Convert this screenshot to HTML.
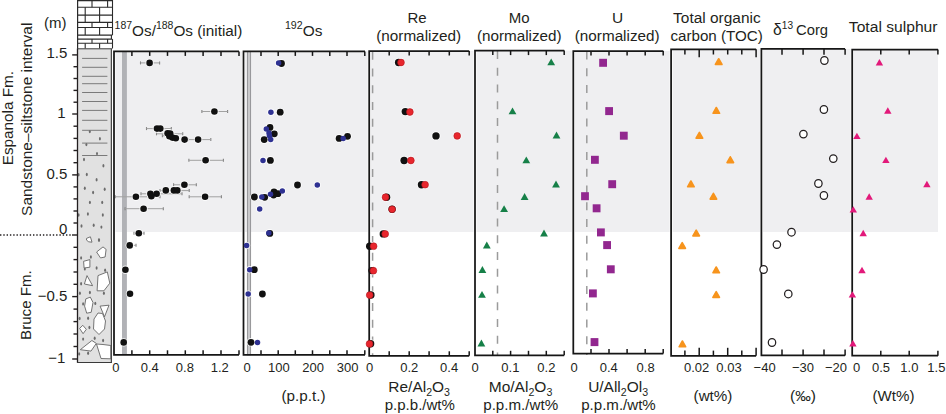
<!DOCTYPE html>
<html><head><meta charset="utf-8"><title>Figure</title>
<style>
html,body{margin:0;padding:0;background:#fff;width:946px;height:414px;overflow:hidden}
svg{display:block}
text{font-family:"Liberation Sans", sans-serif;fill:#231f20}
</style></head><body>
<svg width="946" height="414" viewBox="0 0 946 414">
<rect x="77.5" y="0.5" width="35" height="48" fill="#fff"/>
<line x1="77.5" y1="0.6" x2="112.5" y2="0.6" stroke="#2a2a2a" stroke-width="1.1"/>
<line x1="77.5" y1="7.2" x2="112.5" y2="7.2" stroke="#2a2a2a" stroke-width="1.1"/>
<line x1="77.5" y1="15.1" x2="112.5" y2="15.1" stroke="#2a2a2a" stroke-width="1.1"/>
<line x1="77.5" y1="22.4" x2="112.5" y2="22.4" stroke="#2a2a2a" stroke-width="1.1"/>
<line x1="77.5" y1="27.5" x2="112.5" y2="27.5" stroke="#2a2a2a" stroke-width="1.1"/>
<line x1="77.5" y1="35.1" x2="112.5" y2="35.1" stroke="#2a2a2a" stroke-width="1.1"/>
<line x1="77.5" y1="39.1" x2="112.5" y2="39.1" stroke="#2a2a2a" stroke-width="1.1"/>
<line x1="77.5" y1="43.2" x2="112.5" y2="43.2" stroke="#2a2a2a" stroke-width="1.1"/>
<line x1="92" y1="0.6" x2="92" y2="7.2" stroke="#2a2a2a" stroke-width="1.1"/>
<line x1="107.6" y1="0.6" x2="107.6" y2="7.2" stroke="#2a2a2a" stroke-width="1.1"/>
<line x1="85.2" y1="7.2" x2="85.2" y2="15.1" stroke="#2a2a2a" stroke-width="1.1"/>
<line x1="99.6" y1="7.2" x2="99.6" y2="15.1" stroke="#2a2a2a" stroke-width="1.1"/>
<line x1="85.2" y1="15.1" x2="85.2" y2="22.4" stroke="#2a2a2a" stroke-width="1.1"/>
<line x1="99.6" y1="15.1" x2="99.6" y2="22.4" stroke="#2a2a2a" stroke-width="1.1"/>
<line x1="92" y1="22.4" x2="92" y2="27.5" stroke="#2a2a2a" stroke-width="1.1"/>
<line x1="107.6" y1="22.4" x2="107.6" y2="27.5" stroke="#2a2a2a" stroke-width="1.1"/>
<line x1="85.2" y1="27.5" x2="85.2" y2="35.1" stroke="#2a2a2a" stroke-width="1.1"/>
<line x1="99.6" y1="27.5" x2="99.6" y2="35.1" stroke="#2a2a2a" stroke-width="1.1"/>
<line x1="92" y1="39.1" x2="92" y2="43.2" stroke="#2a2a2a" stroke-width="1.1"/>
<line x1="107.6" y1="39.1" x2="107.6" y2="43.2" stroke="#2a2a2a" stroke-width="1.1"/>
<line x1="85.2" y1="43.2" x2="85.2" y2="48.5" stroke="#2a2a2a" stroke-width="1.1"/>
<line x1="99.6" y1="43.2" x2="99.6" y2="48.5" stroke="#2a2a2a" stroke-width="1.1"/>
<rect x="111.9" y="35.6" width="1.4" height="3.0" fill="#fff"/>
<line x1="112.5" y1="0" x2="112.5" y2="35.1" stroke="#2a2a2a" stroke-width="1.1"/>
<line x1="111.4" y1="35.1" x2="111.4" y2="39.1" stroke="#2a2a2a" stroke-width="1.1"/>
<line x1="112.5" y1="39.1" x2="112.5" y2="48.5" stroke="#2a2a2a" stroke-width="1.1"/>
<line x1="77.6" y1="0" x2="77.6" y2="48.8" stroke="#2a2a2a" stroke-width="1.2"/>
<rect x="77.5" y="48.8" width="34" height="313.7" fill="#e1e1e1" stroke="#3a3a3a" stroke-width="1"/>
<line x1="82.1" y1="58.4" x2="107.4" y2="58.4" stroke="#7a7a7a" stroke-width="1"/>
<line x1="82.1" y1="67.3" x2="107.4" y2="67.3" stroke="#7a7a7a" stroke-width="1"/>
<line x1="82.1" y1="76.3" x2="107.4" y2="76.3" stroke="#7a7a7a" stroke-width="1"/>
<line x1="82.1" y1="83.7" x2="107.4" y2="83.7" stroke="#7a7a7a" stroke-width="1"/>
<line x1="82.1" y1="92.5" x2="107.4" y2="92.5" stroke="#7a7a7a" stroke-width="1"/>
<line x1="82.1" y1="101.5" x2="107.4" y2="101.5" stroke="#7a7a7a" stroke-width="1"/>
<line x1="82.1" y1="110.4" x2="107.4" y2="110.4" stroke="#7a7a7a" stroke-width="1"/>
<line x1="82.1" y1="120.3" x2="107.4" y2="120.3" stroke="#7a7a7a" stroke-width="1"/>
<line x1="82.1" y1="130.3" x2="107.4" y2="130.3" stroke="#7a7a7a" stroke-width="1"/>
<line x1="82.1" y1="143.1" x2="107.4" y2="143.1" stroke="#7a7a7a" stroke-width="1"/>
<line x1="82.1" y1="155.5" x2="107.4" y2="155.5" stroke="#7a7a7a" stroke-width="1"/>
<ellipse cx="78.6" cy="174.7" rx="1.0" ry="1.7" fill="#6c6c6c"/>
<ellipse cx="89.8" cy="131.6" rx="1.0" ry="1.7" fill="#6c6c6c"/>
<ellipse cx="99.9" cy="138.8" rx="1.0" ry="1.7" fill="#6c6c6c"/>
<ellipse cx="86.4" cy="144.6" rx="1.0" ry="1.7" fill="#6c6c6c"/>
<ellipse cx="97" cy="153.6" rx="1.0" ry="1.7" fill="#6c6c6c"/>
<ellipse cx="84" cy="159.5" rx="1.0" ry="1.7" fill="#6c6c6c"/>
<ellipse cx="103.4" cy="165.8" rx="1.0" ry="1.7" fill="#6c6c6c"/>
<ellipse cx="86.8" cy="174.5" rx="1.0" ry="1.7" fill="#6c6c6c"/>
<ellipse cx="96.6" cy="179.7" rx="1.0" ry="1.7" fill="#6c6c6c"/>
<ellipse cx="84.8" cy="188.3" rx="1.0" ry="1.7" fill="#6c6c6c"/>
<ellipse cx="93.1" cy="192.5" rx="1.0" ry="1.7" fill="#6c6c6c"/>
<ellipse cx="104.7" cy="189.2" rx="1.0" ry="1.7" fill="#6c6c6c"/>
<ellipse cx="89.9" cy="202.4" rx="1.0" ry="1.7" fill="#6c6c6c"/>
<ellipse cx="102.2" cy="202.4" rx="1.0" ry="1.7" fill="#6c6c6c"/>
<ellipse cx="78.6" cy="215" rx="1.0" ry="1.7" fill="#6c6c6c"/>
<ellipse cx="87.9" cy="214" rx="1.0" ry="1.7" fill="#6c6c6c"/>
<ellipse cx="102.8" cy="215" rx="1.0" ry="1.7" fill="#6c6c6c"/>
<ellipse cx="81.5" cy="226" rx="1.0" ry="1.7" fill="#6c6c6c"/>
<ellipse cx="93.7" cy="225.2" rx="1.0" ry="1.7" fill="#6c6c6c"/>
<ellipse cx="101.4" cy="227.1" rx="1.0" ry="1.7" fill="#6c6c6c"/>
<ellipse cx="98.9" cy="240" rx="1.0" ry="1.7" fill="#6c6c6c"/>
<ellipse cx="99.1" cy="240.1" rx="1.0" ry="1.7" fill="#6c6c6c"/>
<ellipse cx="81.1" cy="257.9" rx="1.0" ry="1.7" fill="#6c6c6c"/>
<ellipse cx="90.9" cy="257" rx="1.0" ry="1.7" fill="#6c6c6c"/>
<ellipse cx="84.8" cy="268.9" rx="1.0" ry="1.7" fill="#6c6c6c"/>
<ellipse cx="96.6" cy="268" rx="1.0" ry="1.7" fill="#6c6c6c"/>
<ellipse cx="105.1" cy="270.2" rx="1.0" ry="1.7" fill="#6c6c6c"/>
<ellipse cx="81.1" cy="283.7" rx="1.0" ry="1.7" fill="#6c6c6c"/>
<ellipse cx="79.9" cy="293.3" rx="1.0" ry="1.7" fill="#6c6c6c"/>
<ellipse cx="89.9" cy="292.5" rx="1.0" ry="1.7" fill="#6c6c6c"/>
<ellipse cx="103.9" cy="293.3" rx="1.0" ry="1.7" fill="#6c6c6c"/>
<ellipse cx="83.1" cy="303.9" rx="1.0" ry="1.7" fill="#6c6c6c"/>
<ellipse cx="95.3" cy="303.4" rx="1.0" ry="1.7" fill="#6c6c6c"/>
<ellipse cx="79.6" cy="318.5" rx="1.0" ry="1.7" fill="#6c6c6c"/>
<ellipse cx="88.1" cy="318.2" rx="1.0" ry="1.7" fill="#6c6c6c"/>
<ellipse cx="89.4" cy="327.5" rx="1.0" ry="1.7" fill="#6c6c6c"/>
<ellipse cx="83.1" cy="339.1" rx="1.0" ry="1.7" fill="#6c6c6c"/>
<ellipse cx="94.7" cy="338.2" rx="1.0" ry="1.7" fill="#6c6c6c"/>
<ellipse cx="103.1" cy="340.5" rx="1.0" ry="1.7" fill="#6c6c6c"/>
<ellipse cx="79.2" cy="353.9" rx="1.0" ry="1.7" fill="#6c6c6c"/>
<ellipse cx="88.1" cy="353.3" rx="1.0" ry="1.7" fill="#6c6c6c"/>
<polygon points="86.5,238.4 90.4,236.8 92,242.2 88.7,241.8 86.5,240.1" fill="#fff" stroke="#666" stroke-width="0.9"/>
<polygon points="96.6,252 103,246.9 106.1,249.4 105.1,257 100.5,257.9" fill="#fff" stroke="#666" stroke-width="0.9"/>
<polygon points="83.6,261.3 89.9,259.6 89.9,267.2 84.1,268" fill="#fff" stroke="#666" stroke-width="0.9"/>
<polygon points="87,275.6 92.6,285.7 84.4,284" fill="#fff" stroke="#666" stroke-width="0.9"/>
<polygon points="98,275.6 107.3,271.9 109.8,283.2 103.9,290.8 97.1,290.8" fill="#fff" stroke="#666" stroke-width="0.9"/>
<polygon points="85.8,298.9 90.3,297.1 93,302.5 91.2,312.3 86.7,313.2 84.6,306.1" fill="#fff" stroke="#666" stroke-width="0.9"/>
<polygon points="100.1,306.1 109,305.2 104.5,316.8" fill="#fff" stroke="#666" stroke-width="0.9"/>
<polygon points="98,313 102.5,313.5 105.5,321 104.5,329 99,334.5 93.5,329 94,319" fill="#fff" stroke="#666" stroke-width="0.9"/>
<polygon points="79.6,328.4 82.8,325.3 86.3,329.3 83.1,333.7" fill="#fff" stroke="#666" stroke-width="0.9"/>
<polygon points="80.3,349.7 91.9,340.5 96.3,343.4 91,351.1" fill="#fff" stroke="#666" stroke-width="0.9"/>
<polygon points="96.5,344 103,344.5 110.8,345.5 110.8,358.8 101,358.5" fill="#fff" stroke="#666" stroke-width="0.9"/>
<line x1="77.5" y1="48.5" x2="77.5" y2="362.8" stroke="#231f20" stroke-width="1.3"/>
<line x1="77" y1="362.5" x2="111.5" y2="362.5" stroke="#3a3a3a" stroke-width="1.2"/>
<line x1="111.3" y1="48.8" x2="111.3" y2="362.5" stroke="#4a4a4a" stroke-width="1.1"/>
<line x1="72.2" y1="359.0" x2="77.5" y2="359.0" stroke="#231f20" stroke-width="1.4"/>
<line x1="73.5" y1="346.5" x2="77.5" y2="346.5" stroke="#231f20" stroke-width="1.4"/>
<line x1="73.5" y1="334.0" x2="77.5" y2="334.0" stroke="#231f20" stroke-width="1.4"/>
<line x1="73.5" y1="321.6" x2="77.5" y2="321.6" stroke="#231f20" stroke-width="1.4"/>
<line x1="73.5" y1="309.1" x2="77.5" y2="309.1" stroke="#231f20" stroke-width="1.4"/>
<line x1="72.2" y1="296.6" x2="77.5" y2="296.6" stroke="#231f20" stroke-width="1.4"/>
<line x1="73.5" y1="284.3" x2="77.5" y2="284.3" stroke="#231f20" stroke-width="1.4"/>
<line x1="73.5" y1="272.0" x2="77.5" y2="272.0" stroke="#231f20" stroke-width="1.4"/>
<line x1="73.5" y1="259.6" x2="77.5" y2="259.6" stroke="#231f20" stroke-width="1.4"/>
<line x1="73.5" y1="247.3" x2="77.5" y2="247.3" stroke="#231f20" stroke-width="1.4"/>
<line x1="72.2" y1="235.0" x2="77.5" y2="235.0" stroke="#231f20" stroke-width="1.4"/>
<line x1="73.5" y1="223.0" x2="77.5" y2="223.0" stroke="#231f20" stroke-width="1.4"/>
<line x1="73.5" y1="211.0" x2="77.5" y2="211.0" stroke="#231f20" stroke-width="1.4"/>
<line x1="73.5" y1="198.9" x2="77.5" y2="198.9" stroke="#231f20" stroke-width="1.4"/>
<line x1="73.5" y1="186.9" x2="77.5" y2="186.9" stroke="#231f20" stroke-width="1.4"/>
<line x1="72.2" y1="174.9" x2="77.5" y2="174.9" stroke="#231f20" stroke-width="1.4"/>
<line x1="73.5" y1="162.7" x2="77.5" y2="162.7" stroke="#231f20" stroke-width="1.4"/>
<line x1="73.5" y1="150.5" x2="77.5" y2="150.5" stroke="#231f20" stroke-width="1.4"/>
<line x1="73.5" y1="138.4" x2="77.5" y2="138.4" stroke="#231f20" stroke-width="1.4"/>
<line x1="73.5" y1="126.2" x2="77.5" y2="126.2" stroke="#231f20" stroke-width="1.4"/>
<line x1="72.2" y1="114.0" x2="77.5" y2="114.0" stroke="#231f20" stroke-width="1.4"/>
<line x1="73.5" y1="102.2" x2="77.5" y2="102.2" stroke="#231f20" stroke-width="1.4"/>
<line x1="73.5" y1="90.4" x2="77.5" y2="90.4" stroke="#231f20" stroke-width="1.4"/>
<line x1="73.5" y1="78.5" x2="77.5" y2="78.5" stroke="#231f20" stroke-width="1.4"/>
<line x1="73.5" y1="66.7" x2="77.5" y2="66.7" stroke="#231f20" stroke-width="1.4"/>
<line x1="72.2" y1="54.9" x2="77.5" y2="54.9" stroke="#231f20" stroke-width="1.4"/>
<line x1="0" y1="235" x2="73" y2="235" stroke="#231f20" stroke-width="1.5" stroke-dasharray="1.4,1.9"/>
<text x="67.4" y="57.6" text-anchor="end" font-size="15">1.5</text>
<text x="65.6" y="117.9" text-anchor="end" font-size="15">1</text>
<text x="67.4" y="179.4" text-anchor="end" font-size="15">0.5</text>
<text x="67.4" y="234.0" text-anchor="end" font-size="15">0</text>
<text x="67.4" y="300.8" text-anchor="end" font-size="15">−0.5</text>
<text x="65.3" y="362.7" text-anchor="end" font-size="15">−1</text>
<rect x="115.5" y="51.4" width="126.5" height="180.6" fill="#efeff1"/>
<rect x="245.0" y="51.4" width="122.69999999999999" height="180.6" fill="#efeff1"/>
<rect x="370.7" y="51.0" width="102.80000000000001" height="181.0" fill="#efeff1"/>
<rect x="476.5" y="50.6" width="95.29999999999995" height="181.4" fill="#efeff1"/>
<rect x="574.8" y="51.0" width="94.80000000000007" height="181.0" fill="#efeff1"/>
<rect x="672.6" y="49.3" width="87.29999999999995" height="182.7" fill="#efeff1"/>
<rect x="762.9" y="48.9" width="87.80000000000007" height="183.1" fill="#efeff1"/>
<rect x="853.7" y="49.6" width="84.29999999999995" height="182.4" fill="#efeff1"/>
<rect x="122" y="51.4" width="4.9" height="303.40000000000003" fill="#b1b2b6"/>
<rect x="247.4" y="51.4" width="3.2" height="303.40000000000003" fill="#c9c9cb" stroke="#8e8e90" stroke-width="0.9"/>
<line x1="372.6" y1="51.8" x2="372.6" y2="355" stroke="#9b9b9b" stroke-width="1.5" stroke-dasharray="7.9,8.85"/>
<line x1="497.5" y1="51.0" x2="497.5" y2="355" stroke="#9b9b9b" stroke-width="1.5" stroke-dasharray="7.9,8.85"/>
<line x1="586.8" y1="51.6" x2="586.8" y2="355" stroke="#9b9b9b" stroke-width="1.5" stroke-dasharray="7.9,8.85"/>
<line x1="136" y1="243.8" x2="136" y2="246.8" stroke="#808080" stroke-width="1.1"/>
<line x1="127" y1="243.8" x2="127" y2="246.8" stroke="#808080" stroke-width="1.1"/>
<line x1="127" y1="245.3" x2="136" y2="245.3" stroke="#a2a2a2" stroke-width="1"/>
<line x1="144" y1="231.7" x2="144" y2="234.7" stroke="#808080" stroke-width="1.1"/>
<line x1="134" y1="231.7" x2="134" y2="234.7" stroke="#808080" stroke-width="1.1"/>
<line x1="134" y1="233.2" x2="144" y2="233.2" stroke="#a2a2a2" stroke-width="1"/>
<line x1="163.3" y1="207.2" x2="163.3" y2="210.2" stroke="#808080" stroke-width="1.1"/>
<line x1="125.1" y1="207.2" x2="125.1" y2="210.2" stroke="#808080" stroke-width="1.1"/>
<line x1="125.1" y1="208.7" x2="163.3" y2="208.7" stroke="#a2a2a2" stroke-width="1"/>
<line x1="221.4" y1="195.3" x2="221.4" y2="198.3" stroke="#808080" stroke-width="1.1"/>
<line x1="189.2" y1="195.3" x2="189.2" y2="198.3" stroke="#808080" stroke-width="1.1"/>
<line x1="189.2" y1="196.8" x2="221.4" y2="196.8" stroke="#a2a2a2" stroke-width="1"/>
<line x1="160" y1="195.3" x2="160" y2="198.3" stroke="#808080" stroke-width="1.1"/>
<line x1="115.2" y1="195.3" x2="115.2" y2="198.3" stroke="#808080" stroke-width="1.1"/>
<line x1="115.2" y1="196.8" x2="160" y2="196.8" stroke="#a2a2a2" stroke-width="1"/>
<line x1="182" y1="192.3" x2="182" y2="195.3" stroke="#808080" stroke-width="1.1"/>
<line x1="141" y1="192.3" x2="141" y2="195.3" stroke="#808080" stroke-width="1.1"/>
<line x1="141" y1="193.8" x2="182" y2="193.8" stroke="#a2a2a2" stroke-width="1"/>
<line x1="189.2" y1="189.1" x2="189.2" y2="192.1" stroke="#808080" stroke-width="1.1"/>
<line x1="160" y1="189.1" x2="160" y2="192.1" stroke="#808080" stroke-width="1.1"/>
<line x1="160" y1="190.6" x2="189.2" y2="190.6" stroke="#a2a2a2" stroke-width="1"/>
<line x1="196.3" y1="183.3" x2="196.3" y2="186.3" stroke="#808080" stroke-width="1.1"/>
<line x1="173.6" y1="183.3" x2="173.6" y2="186.3" stroke="#808080" stroke-width="1.1"/>
<line x1="173.6" y1="184.8" x2="196.3" y2="184.8" stroke="#a2a2a2" stroke-width="1"/>
<line x1="223.4" y1="158.8" x2="223.4" y2="161.8" stroke="#808080" stroke-width="1.1"/>
<line x1="188.9" y1="158.8" x2="188.9" y2="161.8" stroke="#808080" stroke-width="1.1"/>
<line x1="188.9" y1="160.3" x2="223.4" y2="160.3" stroke="#a2a2a2" stroke-width="1"/>
<line x1="210.8" y1="138.1" x2="210.8" y2="141.1" stroke="#808080" stroke-width="1.1"/>
<line x1="187.9" y1="138.1" x2="187.9" y2="141.1" stroke="#808080" stroke-width="1.1"/>
<line x1="187.9" y1="139.6" x2="210.8" y2="139.6" stroke="#a2a2a2" stroke-width="1"/>
<line x1="176" y1="134.3" x2="176" y2="137.3" stroke="#808080" stroke-width="1.1"/>
<line x1="162.4" y1="134.3" x2="162.4" y2="137.3" stroke="#808080" stroke-width="1.1"/>
<line x1="162.4" y1="135.8" x2="176" y2="135.8" stroke="#a2a2a2" stroke-width="1"/>
<line x1="182.7" y1="132.3" x2="182.7" y2="135.3" stroke="#808080" stroke-width="1.1"/>
<line x1="156.5" y1="132.3" x2="156.5" y2="135.3" stroke="#808080" stroke-width="1.1"/>
<line x1="156.5" y1="133.8" x2="182.7" y2="133.8" stroke="#a2a2a2" stroke-width="1"/>
<line x1="171.3" y1="127.1" x2="171.3" y2="130.1" stroke="#808080" stroke-width="1.1"/>
<line x1="146.5" y1="127.1" x2="146.5" y2="130.1" stroke="#808080" stroke-width="1.1"/>
<line x1="146.5" y1="128.6" x2="171.3" y2="128.6" stroke="#a2a2a2" stroke-width="1"/>
<line x1="227.6" y1="110.0" x2="227.6" y2="113.0" stroke="#808080" stroke-width="1.1"/>
<line x1="201.9" y1="110.0" x2="201.9" y2="113.0" stroke="#808080" stroke-width="1.1"/>
<line x1="201.9" y1="111.5" x2="227.6" y2="111.5" stroke="#a2a2a2" stroke-width="1"/>
<line x1="159.6" y1="61.4" x2="159.6" y2="64.4" stroke="#808080" stroke-width="1.1"/>
<line x1="140.5" y1="61.4" x2="140.5" y2="64.4" stroke="#808080" stroke-width="1.1"/>
<line x1="140.5" y1="62.9" x2="159.6" y2="62.9" stroke="#a2a2a2" stroke-width="1"/>
<circle cx="149.6" cy="62.9" r="4.2" fill="#fff" opacity="0.85"/>
<circle cx="214.4" cy="111.5" r="4.2" fill="#fff" opacity="0.85"/>
<circle cx="157.0" cy="128.6" r="4.2" fill="#fff" opacity="0.85"/>
<circle cx="160.3" cy="128.6" r="4.2" fill="#fff" opacity="0.85"/>
<circle cx="167.6" cy="133.3" r="4.2" fill="#fff" opacity="0.85"/>
<circle cx="170.2" cy="133.5" r="4.2" fill="#fff" opacity="0.85"/>
<circle cx="169.4" cy="136.2" r="4.2" fill="#fff" opacity="0.85"/>
<circle cx="172.4" cy="137.6" r="4.2" fill="#fff" opacity="0.85"/>
<circle cx="175.8" cy="138.3" r="4.2" fill="#fff" opacity="0.85"/>
<circle cx="184.6" cy="139.6" r="4.2" fill="#fff" opacity="0.85"/>
<circle cx="198.1" cy="139.6" r="4.2" fill="#fff" opacity="0.85"/>
<circle cx="205.6" cy="160.3" r="4.2" fill="#fff" opacity="0.85"/>
<circle cx="184.4" cy="184.8" r="4.2" fill="#fff" opacity="0.85"/>
<circle cx="165.8" cy="190.4" r="4.2" fill="#fff" opacity="0.85"/>
<circle cx="173.9" cy="190.4" r="4.2" fill="#fff" opacity="0.85"/>
<circle cx="177.3" cy="190.4" r="4.2" fill="#fff" opacity="0.85"/>
<circle cx="156.6" cy="193.8" r="4.2" fill="#fff" opacity="0.85"/>
<circle cx="150.4" cy="193.8" r="4.2" fill="#fff" opacity="0.85"/>
<circle cx="151.4" cy="196.2" r="4.2" fill="#fff" opacity="0.85"/>
<circle cx="135.9" cy="196.8" r="4.2" fill="#fff" opacity="0.85"/>
<circle cx="205.1" cy="196.8" r="4.2" fill="#fff" opacity="0.85"/>
<circle cx="143.6" cy="208.7" r="4.2" fill="#fff" opacity="0.85"/>
<circle cx="138.8" cy="233.2" r="4.2" fill="#fff" opacity="0.85"/>
<circle cx="129.7" cy="245.4" r="4.2" fill="#fff" opacity="0.85"/>
<circle cx="125.4" cy="269.8" r="4.2" fill="#fff" opacity="0.85"/>
<circle cx="130.0" cy="293.8" r="4.2" fill="#fff" opacity="0.85"/>
<circle cx="123.7" cy="342.4" r="4.2" fill="#fff" opacity="0.85"/>
<circle cx="281.5" cy="63.5" r="4.3" fill="#fff" opacity="0.85"/>
<circle cx="280.2" cy="112.2" r="4.3" fill="#fff" opacity="0.85"/>
<circle cx="270.0" cy="127.4" r="4.3" fill="#fff" opacity="0.85"/>
<circle cx="274.3" cy="133.8" r="4.3" fill="#fff" opacity="0.85"/>
<circle cx="264.2" cy="139.6" r="4.3" fill="#fff" opacity="0.85"/>
<circle cx="339.1" cy="138.4" r="4.3" fill="#fff" opacity="0.85"/>
<circle cx="347.5" cy="136.3" r="4.3" fill="#fff" opacity="0.85"/>
<circle cx="270.4" cy="160.4" r="4.3" fill="#fff" opacity="0.85"/>
<circle cx="297.5" cy="185.0" r="4.3" fill="#fff" opacity="0.85"/>
<circle cx="274" cy="191.9" r="4.3" fill="#fff" opacity="0.85"/>
<circle cx="277.9" cy="193.7" r="4.3" fill="#fff" opacity="0.85"/>
<circle cx="273.6" cy="195.0" r="4.3" fill="#fff" opacity="0.85"/>
<circle cx="264.7" cy="197.3" r="4.3" fill="#fff" opacity="0.85"/>
<circle cx="254.4" cy="197.0" r="4.3" fill="#fff" opacity="0.85"/>
<circle cx="269.8" cy="233.4" r="4.3" fill="#fff" opacity="0.85"/>
<circle cx="254.3" cy="269.7" r="4.3" fill="#fff" opacity="0.85"/>
<circle cx="262.4" cy="294.0" r="4.3" fill="#fff" opacity="0.85"/>
<circle cx="251.0" cy="342.3" r="4.3" fill="#fff" opacity="0.85"/>
<circle cx="278.6" cy="63.1" r="3.6" fill="#fff" opacity="0.85"/>
<circle cx="270.9" cy="112.2" r="3.6" fill="#fff" opacity="0.85"/>
<circle cx="266.3" cy="129.0" r="3.6" fill="#fff" opacity="0.85"/>
<circle cx="269.0" cy="133.0" r="3.6" fill="#fff" opacity="0.85"/>
<circle cx="269.4" cy="135.8" r="3.6" fill="#fff" opacity="0.85"/>
<circle cx="270.7" cy="139.4" r="3.6" fill="#fff" opacity="0.85"/>
<circle cx="343.2" cy="138.4" r="3.6" fill="#fff" opacity="0.85"/>
<circle cx="263.0" cy="160.4" r="3.6" fill="#fff" opacity="0.85"/>
<circle cx="317.3" cy="185.1" r="3.6" fill="#fff" opacity="0.85"/>
<circle cx="282.3" cy="190.9" r="3.6" fill="#fff" opacity="0.85"/>
<circle cx="270.5" cy="194.3" r="3.6" fill="#fff" opacity="0.85"/>
<circle cx="261.8" cy="197.1" r="3.6" fill="#fff" opacity="0.85"/>
<circle cx="259.7" cy="208.9" r="3.6" fill="#fff" opacity="0.85"/>
<circle cx="268.8" cy="233.0" r="3.6" fill="#fff" opacity="0.85"/>
<circle cx="246.6" cy="245.5" r="3.6" fill="#fff" opacity="0.85"/>
<circle cx="249.7" cy="269.7" r="3.6" fill="#fff" opacity="0.85"/>
<circle cx="248.2" cy="294.0" r="3.6" fill="#fff" opacity="0.85"/>
<circle cx="257.5" cy="342.5" r="3.6" fill="#fff" opacity="0.85"/>
<circle cx="398.6" cy="62.5" r="4.6" fill="#fff" opacity="0.85"/>
<circle cx="405.3" cy="111.6" r="4.6" fill="#fff" opacity="0.85"/>
<circle cx="436.0" cy="135.9" r="4.6" fill="#fff" opacity="0.85"/>
<circle cx="404.1" cy="160.5" r="4.6" fill="#fff" opacity="0.85"/>
<circle cx="421.5" cy="184.7" r="4.6" fill="#fff" opacity="0.85"/>
<circle cx="386.6" cy="197.2" r="4.6" fill="#fff" opacity="0.85"/>
<circle cx="392.1" cy="209.3" r="4.6" fill="#fff" opacity="0.85"/>
<circle cx="383.3" cy="233.9" r="4.6" fill="#fff" opacity="0.85"/>
<circle cx="369.7" cy="246.2" r="4.6" fill="#fff" opacity="0.85"/>
<circle cx="372.0" cy="270.6" r="4.6" fill="#fff" opacity="0.85"/>
<circle cx="370.9" cy="295.0" r="4.6" fill="#fff" opacity="0.85"/>
<circle cx="370.6" cy="343.8" r="4.6" fill="#fff" opacity="0.85"/>
<circle cx="401.0" cy="62.5" r="4.4" fill="#fff" opacity="0.85"/>
<circle cx="409.9" cy="112.0" r="4.4" fill="#fff" opacity="0.85"/>
<circle cx="457.2" cy="135.9" r="4.4" fill="#fff" opacity="0.85"/>
<circle cx="410.9" cy="160.5" r="4.4" fill="#fff" opacity="0.85"/>
<circle cx="425.1" cy="184.7" r="4.4" fill="#fff" opacity="0.85"/>
<circle cx="385.5" cy="197.2" r="4.4" fill="#fff" opacity="0.85"/>
<circle cx="392.1" cy="209.3" r="4.4" fill="#fff" opacity="0.85"/>
<circle cx="385.2" cy="233.9" r="4.4" fill="#fff" opacity="0.85"/>
<circle cx="373.6" cy="246.2" r="4.4" fill="#fff" opacity="0.85"/>
<circle cx="373.4" cy="270.7" r="4.4" fill="#fff" opacity="0.85"/>
<circle cx="369.7" cy="295.1" r="4.4" fill="#fff" opacity="0.85"/>
<circle cx="369.5" cy="343.9" r="4.4" fill="#fff" opacity="0.85"/>
<path d="M239.0,51.4 H114.0 V354.8 H239.0" fill="none" stroke="#161616" stroke-width="1.75"/>
<line x1="131.9" y1="51.4" x2="131.9" y2="55.9" stroke="#161616" stroke-width="1.5"/>
<line x1="131.9" y1="354.8" x2="131.9" y2="350.3" stroke="#161616" stroke-width="1.5"/>
<line x1="149.7" y1="51.4" x2="149.7" y2="55.9" stroke="#161616" stroke-width="1.5"/>
<line x1="149.7" y1="354.8" x2="149.7" y2="350.3" stroke="#161616" stroke-width="1.5"/>
<line x1="167.5" y1="51.4" x2="167.5" y2="55.9" stroke="#161616" stroke-width="1.5"/>
<line x1="167.5" y1="354.8" x2="167.5" y2="350.3" stroke="#161616" stroke-width="1.5"/>
<line x1="185.3" y1="51.4" x2="185.3" y2="55.9" stroke="#161616" stroke-width="1.5"/>
<line x1="185.3" y1="354.8" x2="185.3" y2="350.3" stroke="#161616" stroke-width="1.5"/>
<line x1="203.1" y1="51.4" x2="203.1" y2="55.9" stroke="#161616" stroke-width="1.5"/>
<line x1="203.1" y1="354.8" x2="203.1" y2="350.3" stroke="#161616" stroke-width="1.5"/>
<line x1="221.0" y1="51.4" x2="221.0" y2="55.9" stroke="#161616" stroke-width="1.5"/>
<line x1="221.0" y1="354.8" x2="221.0" y2="350.3" stroke="#161616" stroke-width="1.5"/>
<line x1="239.0" y1="51.4" x2="239.0" y2="55.9" stroke="#161616" stroke-width="1.5"/>
<line x1="239.0" y1="354.8" x2="239.0" y2="350.3" stroke="#161616" stroke-width="1.5"/>
<path d="M365.0,51.4 H243.5 V354.8 H365.0" fill="none" stroke="#161616" stroke-width="1.75"/>
<line x1="261.0" y1="51.4" x2="261.0" y2="55.9" stroke="#161616" stroke-width="1.5"/>
<line x1="261.0" y1="354.8" x2="261.0" y2="350.3" stroke="#161616" stroke-width="1.5"/>
<line x1="278.2" y1="51.4" x2="278.2" y2="55.9" stroke="#161616" stroke-width="1.5"/>
<line x1="278.2" y1="354.8" x2="278.2" y2="350.3" stroke="#161616" stroke-width="1.5"/>
<line x1="295.3" y1="51.4" x2="295.3" y2="55.9" stroke="#161616" stroke-width="1.5"/>
<line x1="295.3" y1="354.8" x2="295.3" y2="350.3" stroke="#161616" stroke-width="1.5"/>
<line x1="312.5" y1="51.4" x2="312.5" y2="55.9" stroke="#161616" stroke-width="1.5"/>
<line x1="312.5" y1="354.8" x2="312.5" y2="350.3" stroke="#161616" stroke-width="1.5"/>
<line x1="329.8" y1="51.4" x2="329.8" y2="55.9" stroke="#161616" stroke-width="1.5"/>
<line x1="329.8" y1="354.8" x2="329.8" y2="350.3" stroke="#161616" stroke-width="1.5"/>
<line x1="347.0" y1="51.4" x2="347.0" y2="55.9" stroke="#161616" stroke-width="1.5"/>
<line x1="347.0" y1="354.8" x2="347.0" y2="350.3" stroke="#161616" stroke-width="1.5"/>
<line x1="364.8" y1="51.4" x2="364.8" y2="55.9" stroke="#161616" stroke-width="1.5"/>
<line x1="364.8" y1="354.8" x2="364.8" y2="350.3" stroke="#161616" stroke-width="1.5"/>
<path d="M469.2,51.0 H369.2 V355.8 H469.2" fill="none" stroke="#161616" stroke-width="1.75"/>
<line x1="389.2" y1="51.0" x2="389.2" y2="55.5" stroke="#161616" stroke-width="1.5"/>
<line x1="389.2" y1="355.8" x2="389.2" y2="351.3" stroke="#161616" stroke-width="1.5"/>
<line x1="409.2" y1="51.0" x2="409.2" y2="55.5" stroke="#161616" stroke-width="1.5"/>
<line x1="409.2" y1="355.8" x2="409.2" y2="351.3" stroke="#161616" stroke-width="1.5"/>
<line x1="429.1" y1="51.0" x2="429.1" y2="55.5" stroke="#161616" stroke-width="1.5"/>
<line x1="429.1" y1="355.8" x2="429.1" y2="351.3" stroke="#161616" stroke-width="1.5"/>
<line x1="449.3" y1="51.0" x2="449.3" y2="55.5" stroke="#161616" stroke-width="1.5"/>
<line x1="449.3" y1="355.8" x2="449.3" y2="351.3" stroke="#161616" stroke-width="1.5"/>
<line x1="469.2" y1="51.0" x2="469.2" y2="55.5" stroke="#161616" stroke-width="1.5"/>
<line x1="469.2" y1="355.8" x2="469.2" y2="351.3" stroke="#161616" stroke-width="1.5"/>
<path d="M564.2,50.6 H475.0 V355.3 H564.2" fill="none" stroke="#161616" stroke-width="1.75"/>
<line x1="492.8" y1="50.6" x2="492.8" y2="55.1" stroke="#161616" stroke-width="1.5"/>
<line x1="492.8" y1="355.3" x2="492.8" y2="350.8" stroke="#161616" stroke-width="1.5"/>
<line x1="510.6" y1="50.6" x2="510.6" y2="55.1" stroke="#161616" stroke-width="1.5"/>
<line x1="510.6" y1="355.3" x2="510.6" y2="350.8" stroke="#161616" stroke-width="1.5"/>
<line x1="528.5" y1="50.6" x2="528.5" y2="55.1" stroke="#161616" stroke-width="1.5"/>
<line x1="528.5" y1="355.3" x2="528.5" y2="350.8" stroke="#161616" stroke-width="1.5"/>
<line x1="546.3" y1="50.6" x2="546.3" y2="55.1" stroke="#161616" stroke-width="1.5"/>
<line x1="546.3" y1="355.3" x2="546.3" y2="350.8" stroke="#161616" stroke-width="1.5"/>
<line x1="564.2" y1="50.6" x2="564.2" y2="55.1" stroke="#161616" stroke-width="1.5"/>
<line x1="564.2" y1="355.3" x2="564.2" y2="350.8" stroke="#161616" stroke-width="1.5"/>
<path d="M663.3,51.0 H573.3 V353.6 H663.3" fill="none" stroke="#161616" stroke-width="1.75"/>
<line x1="591.0" y1="51.0" x2="591.0" y2="55.5" stroke="#161616" stroke-width="1.5"/>
<line x1="591.0" y1="353.6" x2="591.0" y2="349.1" stroke="#161616" stroke-width="1.5"/>
<line x1="609.0" y1="51.0" x2="609.0" y2="55.5" stroke="#161616" stroke-width="1.5"/>
<line x1="609.0" y1="353.6" x2="609.0" y2="349.1" stroke="#161616" stroke-width="1.5"/>
<line x1="627.1" y1="51.0" x2="627.1" y2="55.5" stroke="#161616" stroke-width="1.5"/>
<line x1="627.1" y1="353.6" x2="627.1" y2="349.1" stroke="#161616" stroke-width="1.5"/>
<line x1="645.2" y1="51.0" x2="645.2" y2="55.5" stroke="#161616" stroke-width="1.5"/>
<line x1="645.2" y1="353.6" x2="645.2" y2="349.1" stroke="#161616" stroke-width="1.5"/>
<line x1="663.2" y1="51.0" x2="663.2" y2="55.5" stroke="#161616" stroke-width="1.5"/>
<line x1="663.2" y1="353.6" x2="663.2" y2="349.1" stroke="#161616" stroke-width="1.5"/>
<path d="M756.1,49.3 H671.1 V355.8 H756.1" fill="none" stroke="#161616" stroke-width="1.75"/>
<line x1="684.9" y1="49.3" x2="684.9" y2="54.5" stroke="#161616" stroke-width="1.5"/>
<line x1="684.9" y1="355.8" x2="684.9" y2="350.6" stroke="#161616" stroke-width="1.5"/>
<line x1="699.2" y1="49.3" x2="699.2" y2="57.3" stroke="#161616" stroke-width="1.5"/>
<line x1="699.2" y1="355.8" x2="699.2" y2="347.8" stroke="#161616" stroke-width="1.5"/>
<line x1="713.4" y1="49.3" x2="713.4" y2="54.5" stroke="#161616" stroke-width="1.5"/>
<line x1="713.4" y1="355.8" x2="713.4" y2="350.6" stroke="#161616" stroke-width="1.5"/>
<line x1="727.7" y1="49.3" x2="727.7" y2="54.5" stroke="#161616" stroke-width="1.5"/>
<line x1="727.7" y1="355.8" x2="727.7" y2="347.8" stroke="#161616" stroke-width="1.5"/>
<line x1="741.8" y1="49.3" x2="741.8" y2="54.5" stroke="#161616" stroke-width="1.5"/>
<line x1="741.8" y1="355.8" x2="741.8" y2="350.6" stroke="#161616" stroke-width="1.5"/>
<line x1="756.1" y1="49.3" x2="756.1" y2="57.3" stroke="#161616" stroke-width="1.5"/>
<line x1="756.1" y1="355.8" x2="756.1" y2="347.8" stroke="#161616" stroke-width="1.5"/>
<path d="M845.1,48.9 H761.4 V355.4 H845.1" fill="none" stroke="#161616" stroke-width="1.75"/>
<line x1="782.0" y1="48.9" x2="782.0" y2="54.699999999999996" stroke="#161616" stroke-width="1.5"/>
<line x1="782.0" y1="355.4" x2="782.0" y2="349.59999999999997" stroke="#161616" stroke-width="1.5"/>
<line x1="803.1" y1="48.9" x2="803.1" y2="54.699999999999996" stroke="#161616" stroke-width="1.5"/>
<line x1="803.1" y1="355.4" x2="803.1" y2="349.59999999999997" stroke="#161616" stroke-width="1.5"/>
<line x1="824.0" y1="48.9" x2="824.0" y2="54.699999999999996" stroke="#161616" stroke-width="1.5"/>
<line x1="824.0" y1="355.4" x2="824.0" y2="349.59999999999997" stroke="#161616" stroke-width="1.5"/>
<line x1="845.1" y1="48.9" x2="845.1" y2="54.699999999999996" stroke="#161616" stroke-width="1.5"/>
<line x1="845.1" y1="355.4" x2="845.1" y2="349.59999999999997" stroke="#161616" stroke-width="1.5"/>
<path d="M938.0,49.6 H852.2 V355.7 H938.0" fill="none" stroke="#161616" stroke-width="1.75"/>
<line x1="880.8" y1="49.6" x2="880.8" y2="54.5" stroke="#161616" stroke-width="1.5"/>
<line x1="880.8" y1="355.7" x2="880.8" y2="350.8" stroke="#161616" stroke-width="1.5"/>
<line x1="909.2" y1="49.6" x2="909.2" y2="54.5" stroke="#161616" stroke-width="1.5"/>
<line x1="909.2" y1="355.7" x2="909.2" y2="350.8" stroke="#161616" stroke-width="1.5"/>
<line x1="937.9" y1="49.6" x2="937.9" y2="54.5" stroke="#161616" stroke-width="1.5"/>
<line x1="937.9" y1="355.7" x2="937.9" y2="350.8" stroke="#161616" stroke-width="1.5"/>
<circle cx="149.6" cy="62.9" r="3.3" fill="#111"/>
<circle cx="214.4" cy="111.5" r="3.3" fill="#111"/>
<circle cx="157.0" cy="128.6" r="3.3" fill="#111"/>
<circle cx="160.3" cy="128.6" r="3.3" fill="#111"/>
<circle cx="167.6" cy="133.3" r="3.3" fill="#111"/>
<circle cx="170.2" cy="133.5" r="3.3" fill="#111"/>
<circle cx="169.4" cy="136.2" r="3.3" fill="#111"/>
<circle cx="172.4" cy="137.6" r="3.3" fill="#111"/>
<circle cx="175.8" cy="138.3" r="3.3" fill="#111"/>
<circle cx="184.6" cy="139.6" r="3.3" fill="#111"/>
<circle cx="198.1" cy="139.6" r="3.3" fill="#111"/>
<circle cx="205.6" cy="160.3" r="3.3" fill="#111"/>
<circle cx="184.4" cy="184.8" r="3.3" fill="#111"/>
<circle cx="165.8" cy="190.4" r="3.3" fill="#111"/>
<circle cx="173.9" cy="190.4" r="3.3" fill="#111"/>
<circle cx="177.3" cy="190.4" r="3.3" fill="#111"/>
<circle cx="156.6" cy="193.8" r="3.3" fill="#111"/>
<circle cx="150.4" cy="193.8" r="3.3" fill="#111"/>
<circle cx="151.4" cy="196.2" r="3.3" fill="#111"/>
<circle cx="135.9" cy="196.8" r="3.3" fill="#111"/>
<circle cx="205.1" cy="196.8" r="3.3" fill="#111"/>
<circle cx="143.6" cy="208.7" r="3.3" fill="#111"/>
<circle cx="138.8" cy="233.2" r="3.3" fill="#111"/>
<circle cx="129.7" cy="245.4" r="3.3" fill="#111"/>
<circle cx="125.4" cy="269.8" r="3.3" fill="#111"/>
<circle cx="130.0" cy="293.8" r="3.3" fill="#111"/>
<circle cx="123.7" cy="342.4" r="3.3" fill="#111"/>
<circle cx="281.5" cy="63.5" r="3.4" fill="#111"/>
<circle cx="280.2" cy="112.2" r="3.4" fill="#111"/>
<circle cx="270.0" cy="127.4" r="3.4" fill="#111"/>
<circle cx="274.3" cy="133.8" r="3.4" fill="#111"/>
<circle cx="264.2" cy="139.6" r="3.4" fill="#111"/>
<circle cx="339.1" cy="138.4" r="3.4" fill="#111"/>
<circle cx="347.5" cy="136.3" r="3.4" fill="#111"/>
<circle cx="270.4" cy="160.4" r="3.4" fill="#111"/>
<circle cx="297.5" cy="185.0" r="3.4" fill="#111"/>
<circle cx="274" cy="191.9" r="3.4" fill="#111"/>
<circle cx="277.9" cy="193.7" r="3.4" fill="#111"/>
<circle cx="273.6" cy="195.0" r="3.4" fill="#111"/>
<circle cx="264.7" cy="197.3" r="3.4" fill="#111"/>
<circle cx="254.4" cy="197.0" r="3.4" fill="#111"/>
<circle cx="269.8" cy="233.4" r="3.4" fill="#111"/>
<circle cx="254.3" cy="269.7" r="3.4" fill="#111"/>
<circle cx="262.4" cy="294.0" r="3.4" fill="#111"/>
<circle cx="251.0" cy="342.3" r="3.4" fill="#111"/>
<circle cx="278.6" cy="63.1" r="2.75" fill="#2e3192"/>
<circle cx="270.9" cy="112.2" r="2.75" fill="#2e3192"/>
<circle cx="266.3" cy="129.0" r="2.75" fill="#2e3192"/>
<circle cx="269.0" cy="133.0" r="2.75" fill="#2e3192"/>
<circle cx="269.4" cy="135.8" r="2.75" fill="#2e3192"/>
<circle cx="270.7" cy="139.4" r="2.75" fill="#2e3192"/>
<circle cx="343.2" cy="138.4" r="2.75" fill="#2e3192"/>
<circle cx="263.0" cy="160.4" r="2.75" fill="#2e3192"/>
<circle cx="317.3" cy="185.1" r="2.75" fill="#2e3192"/>
<circle cx="282.3" cy="190.9" r="2.75" fill="#2e3192"/>
<circle cx="270.5" cy="194.3" r="2.75" fill="#2e3192"/>
<circle cx="261.8" cy="197.1" r="2.75" fill="#2e3192"/>
<circle cx="259.7" cy="208.9" r="2.75" fill="#2e3192"/>
<circle cx="268.8" cy="233.0" r="2.75" fill="#2e3192"/>
<circle cx="246.6" cy="245.5" r="2.75" fill="#2e3192"/>
<circle cx="249.7" cy="269.7" r="2.75" fill="#2e3192"/>
<circle cx="248.2" cy="294.0" r="2.75" fill="#2e3192"/>
<circle cx="257.5" cy="342.5" r="2.75" fill="#2e3192"/>
<circle cx="398.6" cy="62.5" r="3.7" fill="#111"/>
<circle cx="401.0" cy="62.5" r="3.4" fill="#e8262d" stroke="#b01820" stroke-width="0.6"/>
<circle cx="405.3" cy="111.6" r="3.7" fill="#111"/>
<circle cx="409.9" cy="112.0" r="3.4" fill="#e8262d" stroke="#b01820" stroke-width="0.6"/>
<circle cx="436.0" cy="135.9" r="3.7" fill="#111"/>
<circle cx="457.2" cy="135.9" r="3.4" fill="#e8262d" stroke="#b01820" stroke-width="0.6"/>
<circle cx="404.1" cy="160.5" r="3.7" fill="#111"/>
<circle cx="410.9" cy="160.5" r="3.4" fill="#e8262d" stroke="#b01820" stroke-width="0.6"/>
<circle cx="421.5" cy="184.7" r="3.7" fill="#111"/>
<circle cx="425.1" cy="184.7" r="3.4" fill="#e8262d" stroke="#b01820" stroke-width="0.6"/>
<circle cx="386.6" cy="197.2" r="3.7" fill="#111"/>
<circle cx="385.5" cy="197.2" r="3.4" fill="#e8262d" stroke="#b01820" stroke-width="0.6"/>
<circle cx="392.1" cy="209.3" r="3.7" fill="#111"/>
<circle cx="392.1" cy="209.3" r="3.4" fill="#e8262d" stroke="#b01820" stroke-width="0.6"/>
<circle cx="383.3" cy="233.9" r="3.7" fill="#111"/>
<circle cx="385.2" cy="233.9" r="3.4" fill="#e8262d" stroke="#b01820" stroke-width="0.6"/>
<circle cx="369.7" cy="246.2" r="3.7" fill="#111"/>
<circle cx="373.6" cy="246.2" r="3.4" fill="#e8262d" stroke="#b01820" stroke-width="0.6"/>
<circle cx="372.0" cy="270.6" r="3.7" fill="#111"/>
<circle cx="373.4" cy="270.7" r="3.4" fill="#e8262d" stroke="#b01820" stroke-width="0.6"/>
<circle cx="370.9" cy="295.0" r="3.7" fill="#111"/>
<circle cx="369.7" cy="295.1" r="3.4" fill="#e8262d" stroke="#b01820" stroke-width="0.6"/>
<circle cx="370.6" cy="343.8" r="3.7" fill="#111"/>
<circle cx="369.5" cy="343.9" r="3.4" fill="#e8262d" stroke="#b01820" stroke-width="0.6"/>
<polygon points="551.2,58.52 555.1,65.32000000000001 547.3000000000001,65.32000000000001" fill="#168048"/>
<polygon points="512.5,107.42 516.4,114.22 508.6,114.22" fill="#168048"/>
<polygon points="556.5,131.61999999999998 560.4,138.42 552.6,138.42" fill="#168048"/>
<polygon points="526.3,156.42 530.1999999999999,163.22 522.4,163.22" fill="#168048"/>
<polygon points="556.0,180.61999999999998 559.9,187.42 552.1,187.42" fill="#168048"/>
<polygon points="524.6,193.11999999999998 528.5,199.92 520.7,199.92" fill="#168048"/>
<polygon points="504.1,205.22 508.0,212.02 500.20000000000005,212.02" fill="#168048"/>
<polygon points="544.0,229.61999999999998 547.9,236.42 540.1,236.42" fill="#168048"/>
<polygon points="486.8,241.61999999999998 490.7,248.42 482.90000000000003,248.42" fill="#168048"/>
<polygon points="482.4,266.12 486.29999999999995,272.92 478.5,272.92" fill="#168048"/>
<polygon points="482.0,290.92 485.9,297.72 478.1,297.72" fill="#168048"/>
<polygon points="481.4,339.62 485.29999999999995,346.42 477.5,346.42" fill="#168048"/>
<rect x="599.2" y="58.8" width="7.8" height="8.0" fill="#92278f"/>
<rect x="605.2" y="107.1" width="7.8" height="8.0" fill="#92278f"/>
<rect x="619.9" y="131.7" width="7.8" height="8.0" fill="#92278f"/>
<rect x="591.0" y="155.8" width="7.8" height="8.0" fill="#92278f"/>
<rect x="608.3000000000001" y="180.2" width="7.8" height="8.0" fill="#92278f"/>
<rect x="581.1" y="192.2" width="7.8" height="8.0" fill="#92278f"/>
<rect x="592.7" y="204.3" width="7.8" height="8.0" fill="#92278f"/>
<rect x="597.0" y="228.4" width="7.8" height="8.0" fill="#92278f"/>
<rect x="603.2" y="241.1" width="7.8" height="8.0" fill="#92278f"/>
<rect x="606.9" y="265.3" width="7.8" height="8.0" fill="#92278f"/>
<rect x="589.0" y="289.4" width="7.8" height="8.0" fill="#92278f"/>
<rect x="590.6" y="338.1" width="7.8" height="8.0" fill="#92278f"/>
<polygon points="718.7,58.720000000000006 722.0,64.52 715.4000000000001,64.52" fill="#f7941d" stroke="#f7941d" stroke-width="1.6" stroke-linejoin="round"/>
<polygon points="716.3,107.52 719.5999999999999,113.32 713.0,113.32" fill="#f7941d" stroke="#f7941d" stroke-width="1.6" stroke-linejoin="round"/>
<polygon points="699.4,132.42000000000002 702.6999999999999,138.22 696.1,138.22" fill="#f7941d" stroke="#f7941d" stroke-width="1.6" stroke-linejoin="round"/>
<polygon points="730.3,156.82000000000002 733.5999999999999,162.62 727.0,162.62" fill="#f7941d" stroke="#f7941d" stroke-width="1.6" stroke-linejoin="round"/>
<polygon points="690.9,181.02 694.1999999999999,186.82 687.6,186.82" fill="#f7941d" stroke="#f7941d" stroke-width="1.6" stroke-linejoin="round"/>
<polygon points="713.4,193.32000000000002 716.6999999999999,199.12 710.1,199.12" fill="#f7941d" stroke="#f7941d" stroke-width="1.6" stroke-linejoin="round"/>
<polygon points="696.2,230.12 699.5,235.92 692.9000000000001,235.92" fill="#f7941d" stroke="#f7941d" stroke-width="1.6" stroke-linejoin="round"/>
<polygon points="682.2,242.62 685.5,248.42 678.9000000000001,248.42" fill="#f7941d" stroke="#f7941d" stroke-width="1.6" stroke-linejoin="round"/>
<polygon points="716.2,267.02 719.5,272.82 712.9000000000001,272.82" fill="#f7941d" stroke="#f7941d" stroke-width="1.6" stroke-linejoin="round"/>
<polygon points="716.2,291.62 719.5,297.42 712.9000000000001,297.42" fill="#f7941d" stroke="#f7941d" stroke-width="1.6" stroke-linejoin="round"/>
<polygon points="682.4,341.02 685.6999999999999,346.82 679.1,346.82" fill="#f7941d" stroke="#f7941d" stroke-width="1.6" stroke-linejoin="round"/>
<ellipse cx="824.4" cy="60.5" rx="3.7" ry="3.85" fill="#fff" stroke="#231f20" stroke-width="1.25"/>
<ellipse cx="823.9" cy="109.5" rx="3.7" ry="3.85" fill="#fff" stroke="#231f20" stroke-width="1.25"/>
<ellipse cx="803.4" cy="134.1" rx="3.7" ry="3.85" fill="#fff" stroke="#231f20" stroke-width="1.25"/>
<ellipse cx="833.3" cy="158.6" rx="3.7" ry="3.85" fill="#fff" stroke="#231f20" stroke-width="1.25"/>
<ellipse cx="818.4" cy="183.5" rx="3.7" ry="3.85" fill="#fff" stroke="#231f20" stroke-width="1.25"/>
<ellipse cx="823.9" cy="195.5" rx="3.7" ry="3.85" fill="#fff" stroke="#231f20" stroke-width="1.25"/>
<ellipse cx="791.5" cy="232.2" rx="3.7" ry="3.85" fill="#fff" stroke="#231f20" stroke-width="1.25"/>
<ellipse cx="776.9" cy="244.6" rx="3.7" ry="3.85" fill="#fff" stroke="#231f20" stroke-width="1.25"/>
<ellipse cx="763.6" cy="269.5" rx="3.7" ry="3.85" fill="#fff" stroke="#231f20" stroke-width="1.25"/>
<ellipse cx="788.3" cy="293.9" rx="3.7" ry="3.85" fill="#fff" stroke="#231f20" stroke-width="1.25"/>
<ellipse cx="772.0" cy="342.5" rx="3.7" ry="3.85" fill="#fff" stroke="#231f20" stroke-width="1.25"/>
<polygon points="879.4,59.06 883.1,65.46 875.6999999999999,65.46" fill="#e2197a"/>
<polygon points="887.8,107.36 891.5,113.76 884.0999999999999,113.76" fill="#e2197a"/>
<polygon points="856.9,132.66 860.6,139.06 853.1999999999999,139.06" fill="#e2197a"/>
<polygon points="885.9,156.66 889.6,163.06 882.1999999999999,163.06" fill="#e2197a"/>
<polygon points="926.9,180.85999999999999 930.6,187.26 923.1999999999999,187.26" fill="#e2197a"/>
<polygon points="869.2,193.35999999999999 872.9000000000001,199.76 865.5,199.76" fill="#e2197a"/>
<polygon points="853.3,206.16 857.0,212.56 849.5999999999999,212.56" fill="#e2197a"/>
<polygon points="863.2,229.85999999999999 866.9000000000001,236.26 859.5,236.26" fill="#e2197a"/>
<polygon points="862.0,266.76000000000005 865.7,273.16 858.3,273.16" fill="#e2197a"/>
<polygon points="852.4,291.16 856.1,297.56 848.6999999999999,297.56" fill="#e2197a"/>
<polygon points="852.9,340.06 856.6,346.46 849.1999999999999,346.46" fill="#e2197a"/>
<text transform="translate(114.58,35.9) scale(1.0210,1)" x="0" y="0" font-size="15"><tspan font-size="10.3" dy="-6.6">187</tspan><tspan dy="6.6">Os/</tspan><tspan font-size="10.3" dy="-6.6">188</tspan><tspan dy="6.6">Os (initial)</tspan></text>
<text transform="translate(284.97,35.6) scale(1.0286,1)" x="0" y="0" font-size="15"><tspan font-size="10.3" dy="-6.6">192</tspan><tspan dy="6.6">Os</tspan></text>
<text transform="translate(407.40,23.0) scale(1.0000,1)" x="0" y="0" font-size="15">Re</text>
<text transform="translate(508.70,22.8) scale(1.0000,1)" x="0" y="0" font-size="15">Mo</text>
<text transform="translate(611.97,23.0) scale(1.0333,1)" x="0" y="0" font-size="15">U</text>
<text transform="translate(376.18,41.0) scale(1.0207,1)" x="0" y="0" font-size="15">(normalized)</text>
<text transform="translate(476.88,41.0) scale(1.0171,1)" x="0" y="0" font-size="15">(normalized)</text>
<text transform="translate(574.78,40.8) scale(1.0183,1)" x="0" y="0" font-size="15">(normalized)</text>
<text transform="translate(673.07,22.8) scale(1.0298,1)" x="0" y="0" font-size="15">Total organic</text>
<text transform="translate(670.40,40.6) scale(1.0110,1)" x="0" y="0" font-size="15">carbon (TOC)</text>
<text transform="translate(773.10,35.4) scale(0.9839,1)" x="0" y="0" font-size="15"><tspan font-size="16">δ</tspan><tspan font-size="10.3" dy="-6.6">13</tspan><tspan dy="6.6"> Corg</tspan></text>
<text transform="translate(848.86,31.9) scale(1.0429,1)" x="0" y="0" font-size="15">Total sulphur</text>
<text transform="translate(44.10,27.9) scale(1.0000,1)" x="0" y="0" font-size="15">(m)</text>
<text transform="translate(281.48,401.3) scale(1.0167,1)" x="0" y="0" font-size="15">(p.p.t.)</text>
<text transform="translate(388.37,391.9) scale(1.0305,1)" x="0" y="0" font-size="15">Re/Al<tspan font-size="10.3" dy="3.8">2</tspan><tspan dy="-3.8">O</tspan><tspan font-size="10.3" dy="3.8">3</tspan></text>
<text transform="translate(384.70,409.7) scale(1.0029,1)" x="0" y="0" font-size="15">p.p.b./wt%</text>
<text transform="translate(488.76,391.9) scale(1.0350,1)" x="0" y="0" font-size="15">Mo/Al<tspan font-size="10.3" dy="3.8">2</tspan><tspan dy="-3.8">O</tspan><tspan font-size="10.3" dy="3.8">3</tspan></text>
<text transform="translate(483.20,409.8) scale(1.0108,1)" x="0" y="0" font-size="15">p.p.m./wt%</text>
<text transform="translate(588.17,391.9) scale(1.0316,1)" x="0" y="0" font-size="15">U/All<tspan font-size="10.3" dy="3.8">2</tspan><tspan dy="-3.8">Ol</tspan><tspan font-size="10.3" dy="3.8">3</tspan></text>
<text transform="translate(581.20,409.8) scale(1.0054,1)" x="0" y="0" font-size="15">p.p.m./wt%</text>
<text transform="translate(693.59,401.3) scale(1.0135,1)" x="0" y="0" font-size="15">(wt%)</text>
<text transform="translate(789.96,401.3) scale(1.0391,1)" x="0" y="0" font-size="15">(‰)</text>
<text transform="translate(872.59,401.3) scale(1.0075,1)" x="0" y="0" font-size="15">(Wt%)</text>
<text transform="translate(12.9,164.30) rotate(-90) translate(-1.02,0) scale(1.0211,1)" x="0" y="0" font-size="15">Espanola Fm.</text>
<text transform="translate(31.5,214.90) rotate(-90) translate(-1.03,0) scale(1.0317,1)" x="0" y="0" font-size="15">Sandstone–siltstone interval</text>
<text transform="translate(31.2,338.90) rotate(-90) translate(-1.01,0) scale(1.0090,1)" x="0" y="0" font-size="15">Bruce Fm.</text>
<text x="115.8" y="371.6" text-anchor="middle" font-size="13">0</text>
<text x="149.7" y="371.6" text-anchor="middle" font-size="13">0.4</text>
<text x="184.9" y="371.6" text-anchor="middle" font-size="13">0.8</text>
<text x="219.8" y="371.6" text-anchor="middle" font-size="13">1.2</text>
<text x="247.2" y="371.6" text-anchor="middle" font-size="13">0</text>
<text x="278.9" y="371.6" text-anchor="middle" font-size="13">100</text>
<text x="313.2" y="371.6" text-anchor="middle" font-size="13">200</text>
<text x="347.6" y="371.6" text-anchor="middle" font-size="13">300</text>
<text x="369.5" y="371.6" text-anchor="middle" font-size="13">0</text>
<text x="409.3" y="371.6" text-anchor="middle" font-size="13">0.2</text>
<text x="449.1" y="371.6" text-anchor="middle" font-size="13">0.4</text>
<text x="475.2" y="371.6" text-anchor="middle" font-size="13">0</text>
<text x="510.4" y="371.6" text-anchor="middle" font-size="13">0.1</text>
<text x="546.4" y="371.6" text-anchor="middle" font-size="13">0.2</text>
<text x="574.0" y="371.6" text-anchor="middle" font-size="13">0</text>
<text x="608.8" y="371.6" text-anchor="middle" font-size="13">0.4</text>
<text x="645.6" y="371.6" text-anchor="middle" font-size="13">0.8</text>
<text x="696.7" y="371.6" text-anchor="middle" font-size="13">0.02</text>
<text x="729.0" y="371.6" text-anchor="middle" font-size="13">0.03</text>
<text x="764.6" y="371.6" text-anchor="middle" font-size="13">−40</text>
<text x="803.0" y="371.6" text-anchor="middle" font-size="13">−30</text>
<text x="836.0" y="371.6" text-anchor="middle" font-size="13">−20</text>
<text x="856.7" y="371.6" text-anchor="middle" font-size="13">0</text>
<text x="881.0" y="371.6" text-anchor="middle" font-size="13">0.5</text>
<text x="909.4" y="371.6" text-anchor="middle" font-size="13">1.0</text>
<text x="936.4" y="371.6" text-anchor="middle" font-size="13">1.5</text>
</svg>
</body></html>
